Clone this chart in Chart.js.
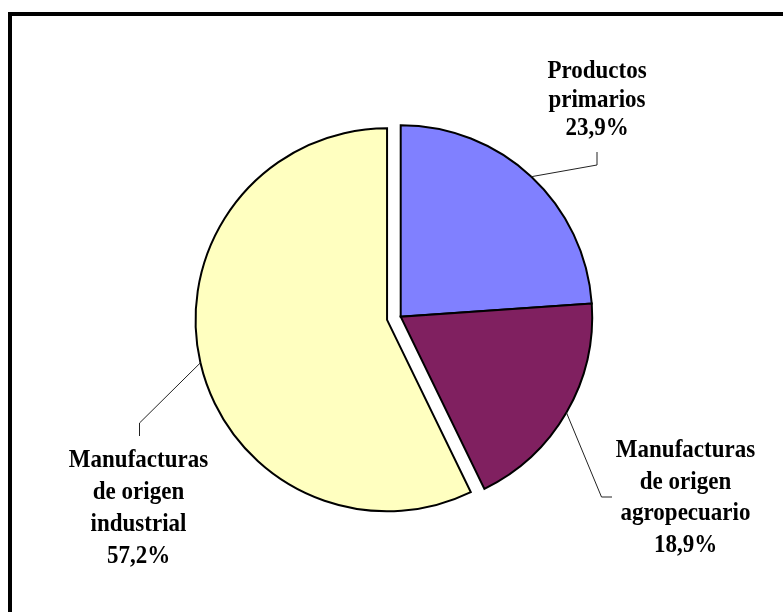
<!DOCTYPE html>
<html>
<head>
<meta charset="utf-8">
<title>Exportaciones por grandes rubros</title>
<script src="https://cdn.jsdelivr.net/npm/chart.js@4.4.0/dist/chart.umd.min.js"></script>
<style>
  html, body { margin: 0; padding: 0; background: #fff; overflow: hidden; }
  #wrap { position: relative; width: 783px; height: 612px; }
  #frame {
    position: absolute; left: 8px; top: 12px; width: 800px; height: 620px;
    border-top: 4px solid #000; border-left: 4px solid #000; box-sizing: border-box;
  }
  #pie { position: absolute; left: 0; top: 0; }
</style>
</head>
<body>
<div id="wrap">
  <div id="frame"></div>
  <canvas id="pie" width="783" height="612"></canvas>
</div>
<script>
// rubros (one entry per label line) and their share of exports, %
const categories = [
  ["Productos", "primarios"],
  ["Manufacturas", "de origen", "agropecuario"],
  ["Manufacturas", "de origen", "industrial"]
];
const shares = [23.9, 18.9, 57.2];
const sliceColors = ["#8080FF", "#802060", "#FFFFC0"];

// where each label sits and how its leader line bends
const labelLayout = [
  { x: 597, y: 78, lineHeight: 28.5, leader: [[597, 165], [597, 152]] },
  { x: 685.5, y: 457, lineHeight: 31.7, leader: [[601.5, 497], [612, 497]] },
  { x: 138.5, y: 467, lineHeight: 32, leader: [[139.5, 423], [139.5, 436]] }
];

function pct(v) {
  return v.toFixed(1).replace(".", ",") + "%";
}

// pull one slice out of the pie without growing its radius
const explodePlugin = {
  id: "explode",
  afterDatasetUpdate(chart, args, opts) {
    const arc = args.meta.data[opts.index];
    if (!arc) return;
    const mid = (arc.startAngle + arc.endAngle) / 2;
    arc.x += Math.cos(mid) * opts.distance;
    arc.y += Math.sin(mid) * opts.distance;
  }
};

// text labels with leader lines from each slice's outer edge
const labelPlugin = {
  id: "sliceLabels",
  afterDatasetsDraw(chart) {
    const ctx = chart.ctx;
    const meta = chart.getDatasetMeta(0);
    ctx.save();
    meta.data.forEach((arc, i) => {
      const lay = labelLayout[i];
      const mid = (arc.startAngle + arc.endAngle) / 2;
      const r = arc.outerRadius;
      ctx.beginPath();
      ctx.moveTo(arc.x + Math.cos(mid) * r, arc.y + Math.sin(mid) * r);
      lay.leader.forEach(p => ctx.lineTo(p[0], p[1]));
      ctx.strokeStyle = "#222";
      ctx.lineWidth = 1;
      ctx.stroke();

      const lines = categories[i].concat([pct(shares[i])]);
      ctx.fillStyle = "#000";
      ctx.font = "bold 25px 'Liberation Serif', 'Times New Roman', serif";
      ctx.textAlign = "center";
      ctx.textBaseline = "alphabetic";
      lines.forEach((t, k) => {
        // narrow the serif face a little
        ctx.save();
        ctx.translate(lay.x, lay.y + k * lay.lineHeight);
        ctx.scale(0.92, 1);
        ctx.fillText(t, 0, 0);
        ctx.restore();
      });
    });
    ctx.restore();
  }
};

new Chart(document.getElementById("pie").getContext("2d"), {
  type: "pie",
  data: {
    labels: categories.map(c => c.join(" ")),
    datasets: [{
      data: shares,
      backgroundColor: sliceColors,
      borderColor: "#000",
      borderWidth: 2,
      borderJoinStyle: "miter"
    }]
  },
  options: {
    responsive: false,
    animation: false,
    events: [],
    radius: 191.5,
    layout: { padding: { left: 20, right: 1.6, top: 22, bottom: 0.6 } },
    plugins: {
      legend: { display: false },
      tooltip: { enabled: false },
      explode: { index: 2, distance: 14 }
    }
  },
  plugins: [explodePlugin, labelPlugin]
});
</script>
</body>
</html>
